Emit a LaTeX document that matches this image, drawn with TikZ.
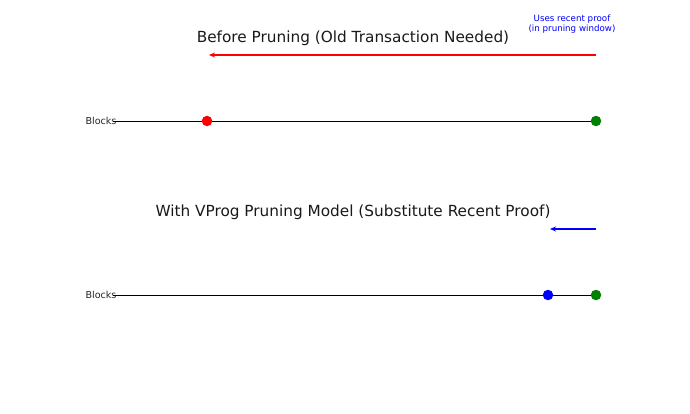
\documentclass[tikz,border=0pt]{standalone}
\usepackage{fontspec}
\setmainfont{DejaVu Sans}
\usepackage{tikz}
\usetikzlibrary{
	positioning,
	arrows.meta
}

\tikzset{
	dot/.style={circle,fill=#1,inner sep=0pt,minimum size=10.5pt},
	title/.style={font=\fontsize{15.3}{17}\selectfont,text=black!90},
	lbl/.style={font=\fontsize{9.6}{11}\selectfont,text=black!85},
	note/.style={font=\fontsize{8.7}{9.5}\selectfont,text=blue,align=center},
	move/.style={draw=#1,line width=1.6pt,-{Stealth[length=6pt,width=5pt]}},
	chain/.style={draw=black,line width=0.9pt}
}

\begin{document}
\begin{tikzpicture}[x=1pt,y=1pt]
		\useasboundingbox (0,0) rectangle (690,413);
		\draw
			node[title]                (t1) at (353,375) {Before Pruning (Old Transaction Needed)}
			node[note]                 (n1) at (572,389) {Uses recent proof\\(in pruning window)}
			coordinate                 (a1) at (596,358)
			coordinate                 (b1) at (209,358)
			node[lbl]                  (l1) at (101,292) {Blocks}
			coordinate                 (s1) at (113,292)
			node[dot=red]              (r1) at (207,292) {}
			node[dot=green!50!black]   (g1) at (596,292) {}

			node[title]                (t2) at (353,201) {With VProg Pruning Model (Substitute Recent Proof)}
			coordinate                 (a2) at (596,184)
			coordinate                 (b2) at (550,184)
			node[lbl]                  (l2) at (101,118) {Blocks}
			coordinate                 (s2) at (113,118)
			node[dot=blue]             (r2) at (548,118) {}
			node[dot=green!50!black]   (g2) at (596,118) {}
		;
		\draw[move=red]  (a1) -- (b1);
		\draw[move=blue] (a2) -- (b2);
		\draw[chain] (s1) -- (r1) -- (g1);
		\draw[chain] (s2) -- (r2) -- (g2);
	\end{tikzpicture}
\end{document}
